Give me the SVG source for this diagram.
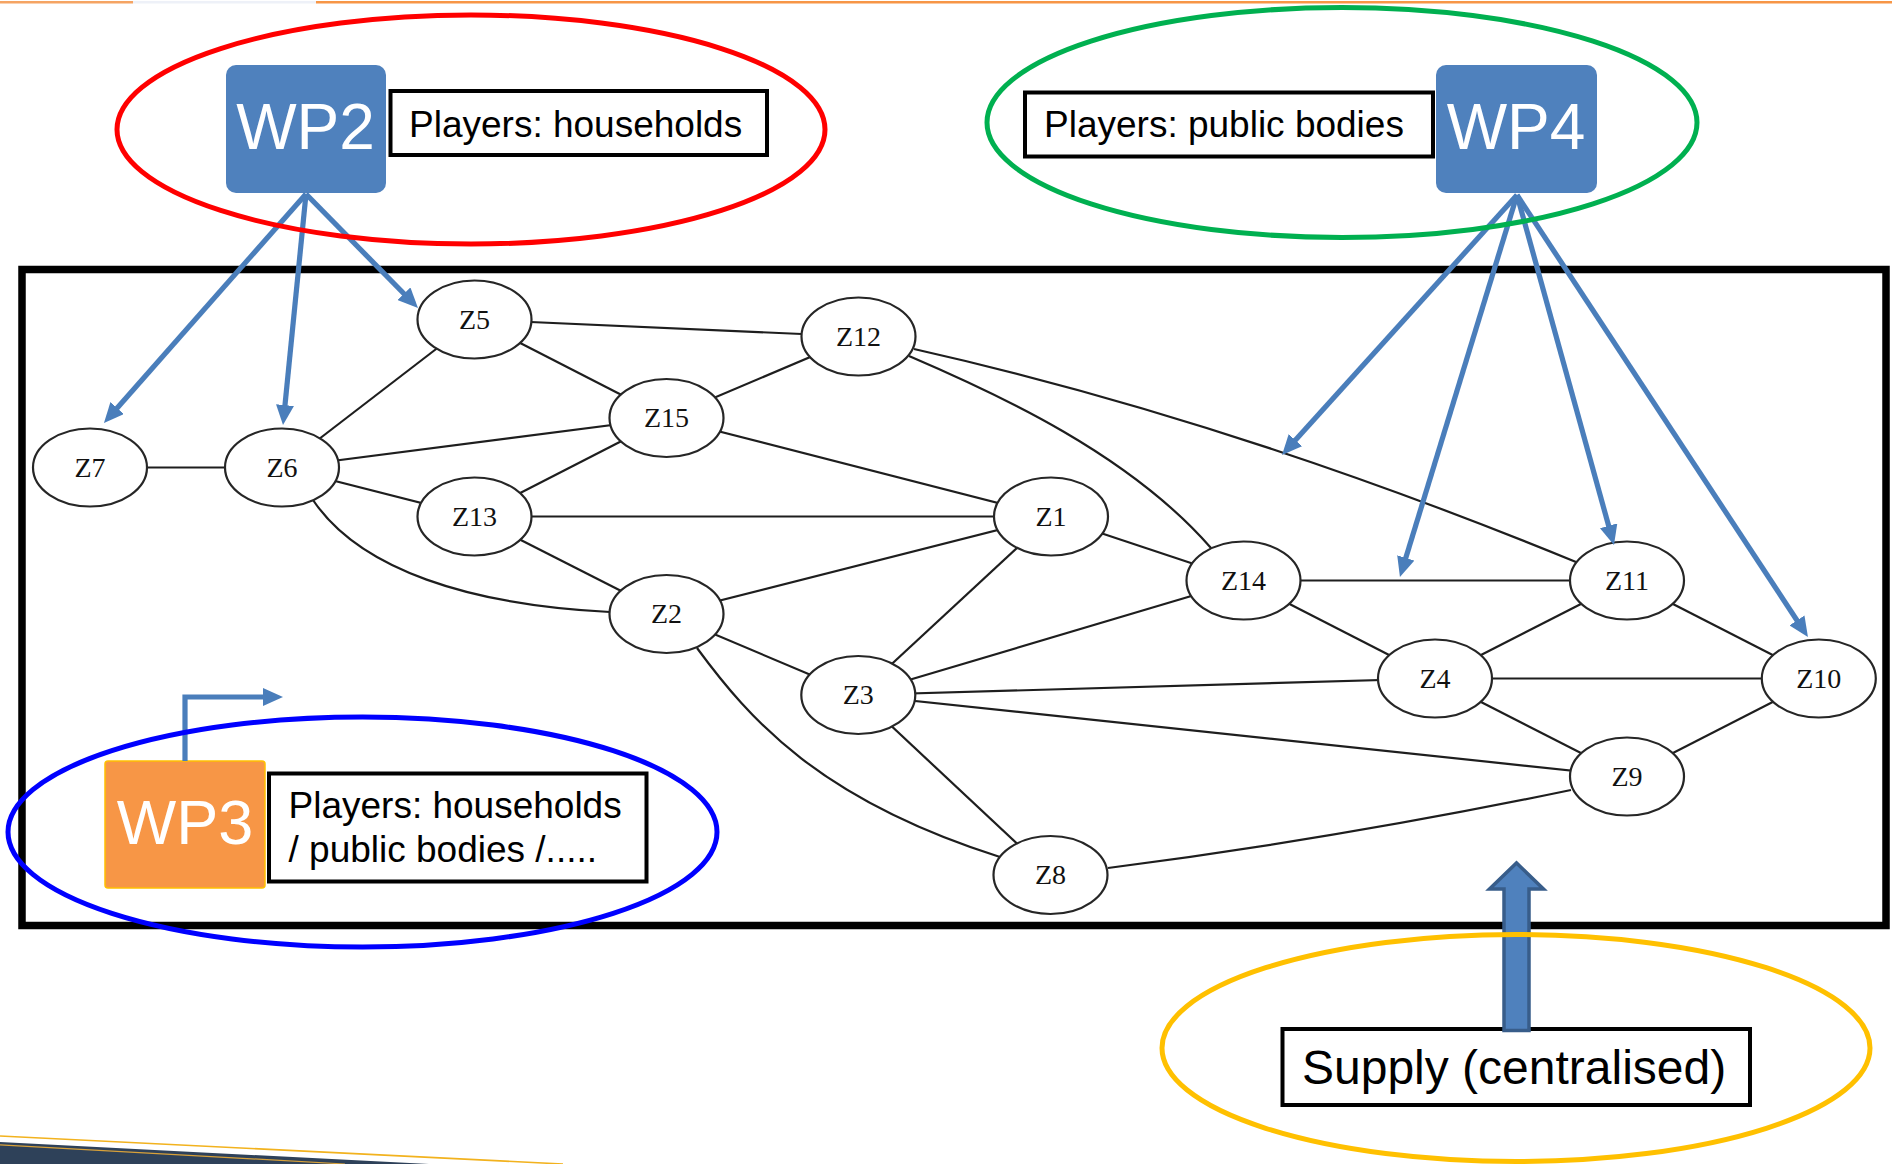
<svg xmlns="http://www.w3.org/2000/svg" width="1892" height="1164" viewBox="0 0 1892 1164">
  <style>
    .edge { fill: none; stroke: #1e1e1e; stroke-width: 2.2; }
    .zone ellipse { fill: #ffffff; stroke: #262626; stroke-width: 2.2; }
    .zone text { font-family: "Liberation Serif", "Times New Roman", serif; font-size: 28px; fill: #111111; text-anchor: middle; }
    .wp text { font-family: "Liberation Sans", Arial, sans-serif; fill: #ffffff; text-anchor: middle; }
    .label rect { fill: #ffffff; stroke: #000000; stroke-width: 4; }
    .label text { font-family: "Liberation Sans", Arial, sans-serif; fill: #000000; }
    .link { fill: none; stroke: #4A7EBB; stroke-width: 5.2; marker-end: url(#head); }
    .ring { fill: none; stroke-width: 5; }
  </style>
  <defs>
    <marker id="head" markerUnits="userSpaceOnUse" markerWidth="20" markerHeight="18" refX="13" refY="9" orient="auto">
      <path d="M0,0 L20,9 L0,18 Z" fill="#4A7EBB"/>
    </marker>
  </defs>

  <rect x="0" y="0" width="1892" height="1164" fill="#ffffff"/>

  <!-- page decoration -->
  <g id="decoration">
    <rect x="0" y="1" width="133" height="2.5" fill="#F5A463"/>
    <rect x="133" y="1" width="183" height="2.5" fill="#EEF1F8"/>
    <rect x="316" y="1" width="1576" height="2.5" fill="#F79646"/>
    <path d="M0,1136 L563,1164" stroke="#F2B21E" stroke-width="1.6" fill="none"/>
    <path d="M0,1142 L429,1164 L0,1164 Z" fill="#2E4159"/>
    <path d="M0,1144.8 L345,1164" stroke="#D9A23A" stroke-width="1.2" fill="none"/>
  </g>

  <!-- network frame -->
  <rect id="frame" x="22" y="269.5" width="1864" height="656" fill="none" stroke="#000000" stroke-width="7.5"/>

  <!-- network links -->
  <g id="edges">
    <line class="edge" x1="90" y1="467.5" x2="282" y2="467.5"/>
    <line class="edge" x1="282" y1="467.5" x2="474.5" y2="319.5"/>
    <line class="edge" x1="282" y1="467.5" x2="666.5" y2="418"/>
    <line class="edge" x1="282" y1="467.5" x2="474.5" y2="516.5"/>
    <path class="edge" d="M313,500 C360,570 470,605 610,612"/>
    <line class="edge" x1="474.5" y1="319.5" x2="858.5" y2="336.5"/>
    <line class="edge" x1="474.5" y1="319.5" x2="666.5" y2="418"/>
    <line class="edge" x1="858.5" y1="336.5" x2="666.5" y2="418"/>
    <line class="edge" x1="666.5" y1="418" x2="474.5" y2="516.5"/>
    <line class="edge" x1="666.5" y1="418" x2="1051" y2="516.5"/>
    <line class="edge" x1="474.5" y1="516.5" x2="1051" y2="516.5"/>
    <line class="edge" x1="474.5" y1="516.5" x2="666.5" y2="614"/>
    <line class="edge" x1="666.5" y1="614" x2="1051" y2="516.5"/>
    <line class="edge" x1="666.5" y1="614" x2="858.3" y2="695"/>
    <path class="edge" d="M697,648 C750,720 820,800 1000,857"/>
    <path class="edge" d="M909,356 C1000,395 1130,455 1211,548"/>
    <path class="edge" d="M914,349 Q1230,420 1576,562"/>
    <line class="edge" x1="1051" y1="516.5" x2="1243.5" y2="580.5"/>
    <line class="edge" x1="1051" y1="516.5" x2="858.3" y2="695"/>
    <line class="edge" x1="1243.5" y1="580.5" x2="1627" y2="580.5"/>
    <line class="edge" x1="1243.5" y1="580.5" x2="858.3" y2="695"/>
    <line class="edge" x1="1243.5" y1="580.5" x2="1435" y2="678.5"/>
    <line class="edge" x1="1627" y1="580.5" x2="1435" y2="678.5"/>
    <line class="edge" x1="1627" y1="580.5" x2="1818.8" y2="678.5"/>
    <line class="edge" x1="858.3" y1="695" x2="1435" y2="678.5"/>
    <line class="edge" x1="858.3" y1="695" x2="1627" y2="776.5"/>
    <line class="edge" x1="858.3" y1="695" x2="1050.5" y2="875"/>
    <line class="edge" x1="1435" y1="678.5" x2="1818.8" y2="678.5"/>
    <line class="edge" x1="1435" y1="678.5" x2="1627" y2="776.5"/>
    <line class="edge" x1="1818.8" y1="678.5" x2="1627" y2="776.5"/>
    <path class="edge" d="M1108,868 Q1340,838 1571,790"/>
  </g>

  <!-- zones -->
  <g id="Z5" class="zone"><ellipse cx="474.5" cy="319.5" rx="57" ry="39"/><text x="474.5" y="328.5">Z5</text></g>
  <g id="Z12" class="zone"><ellipse cx="858.5" cy="336.5" rx="57" ry="39"/><text x="858.5" y="345.5">Z12</text></g>
  <g id="Z15" class="zone"><ellipse cx="666.5" cy="418" rx="57" ry="39"/><text x="666.5" y="427">Z15</text></g>
  <g id="Z7" class="zone"><ellipse cx="90" cy="467.5" rx="57" ry="39"/><text x="90" y="476.5">Z7</text></g>
  <g id="Z6" class="zone"><ellipse cx="282" cy="467.5" rx="57" ry="39"/><text x="282" y="476.5">Z6</text></g>
  <g id="Z13" class="zone"><ellipse cx="474.5" cy="516.5" rx="57" ry="39"/><text x="474.5" y="525.5">Z13</text></g>
  <g id="Z1" class="zone"><ellipse cx="1051" cy="516.5" rx="57" ry="39"/><text x="1051" y="525.5">Z1</text></g>
  <g id="Z14" class="zone"><ellipse cx="1243.5" cy="580.5" rx="57" ry="39"/><text x="1243.5" y="589.5">Z14</text></g>
  <g id="Z11" class="zone"><ellipse cx="1627" cy="580.5" rx="57" ry="39"/><text x="1627" y="589.5">Z11</text></g>
  <g id="Z2" class="zone"><ellipse cx="666.5" cy="614" rx="57" ry="39"/><text x="666.5" y="623">Z2</text></g>
  <g id="Z3" class="zone"><ellipse cx="858.3" cy="695" rx="57" ry="39"/><text x="858.3" y="704">Z3</text></g>
  <g id="Z4" class="zone"><ellipse cx="1435" cy="678.5" rx="57" ry="39"/><text x="1435" y="687.5">Z4</text></g>
  <g id="Z10" class="zone"><ellipse cx="1818.8" cy="678.5" rx="57" ry="39"/><text x="1818.8" y="687.5">Z10</text></g>
  <g id="Z9" class="zone"><ellipse cx="1627" cy="776.5" rx="57" ry="39"/><text x="1627" y="785.5">Z9</text></g>
  <g id="Z8" class="zone"><ellipse cx="1050.5" cy="875" rx="57" ry="39"/><text x="1050.5" y="884">Z8</text></g>

  <!-- work packages -->
  <g id="WP2" class="wp">
    <rect x="226" y="65" width="160" height="128" rx="10" fill="#4F81BD"/>
    <text x="305.5" y="149" font-size="64">WP2</text>
  </g>
  <g id="WP2-players" class="label">
    <rect x="390.5" y="91" width="376.5" height="64"/>
    <text x="409" y="137" font-size="37">Players: households</text>
  </g>

  <g id="WP4" class="wp">
    <rect x="1436" y="65" width="161" height="128" rx="10" fill="#4F81BD"/>
    <text x="1516" y="149" font-size="64">WP4</text>
  </g>
  <g id="WP4-players" class="label">
    <rect x="1025" y="92.5" width="408" height="64"/>
    <text x="1044" y="137" font-size="37">Players: public bodies</text>
  </g>

  <g id="WP3" class="wp">
    <rect x="105" y="761" width="160" height="127" rx="3" fill="#F79646" stroke="#FFC000" stroke-width="1.5"/>
    <text x="185" y="844" font-size="63">WP3</text>
  </g>
  <g id="WP3-players" class="label">
    <rect x="269" y="773.5" width="377.5" height="108"/>
    <text x="288.5" y="818" font-size="37">Players: households</text>
    <text x="288.5" y="862" font-size="37">/ public bodies /.....</text>
  </g>

  <g id="supply" class="label">
    <rect x="1282.5" y="1029" width="467.5" height="76"/>
    <text x="1302" y="1084" font-size="48">Supply (centralised)</text>
  </g>

  <!-- package-to-zone arrows -->
  <g id="connectors">
    <line class="link" x1="306" y1="194" x2="108.6" y2="417.8"/>
    <line class="link" x1="306" y1="194" x2="283.7" y2="418"/>
    <line class="link" x1="306" y1="194" x2="413.1" y2="303"/>
    <line class="link" x1="1517" y1="195" x2="1286.7" y2="449.8"/>
    <line class="link" x1="1517" y1="195" x2="1402" y2="570.3"/>
    <line class="link" x1="1517" y1="195" x2="1612.1" y2="538.3"/>
    <line class="link" x1="1517" y1="195" x2="1804.1" y2="631.2"/>
    <path class="link" d="M185,761 V697 H276"/>
    <path d="M1504,1030.5 V889 H1489.5 L1516.5,863 L1543.5,889 H1529 V1030.5 Z" fill="#4F81BD" stroke="#385D8A" stroke-width="3.5"/>
  </g>

  <!-- grouping rings -->
  <g id="rings">
    <ellipse class="ring" cx="471" cy="129.5" rx="354" ry="114.5" stroke="#FF0000"/>
    <ellipse class="ring" cx="1342" cy="122.5" rx="355" ry="115" stroke="#00B050" stroke-width="4.5"/>
    <ellipse class="ring" cx="362.5" cy="832" rx="354.5" ry="115" stroke="#0000FF"/>
    <ellipse class="ring" cx="1516" cy="1048" rx="354" ry="113.5" stroke="#FFC000" stroke-width="4.5"/>
  </g>
</svg>
